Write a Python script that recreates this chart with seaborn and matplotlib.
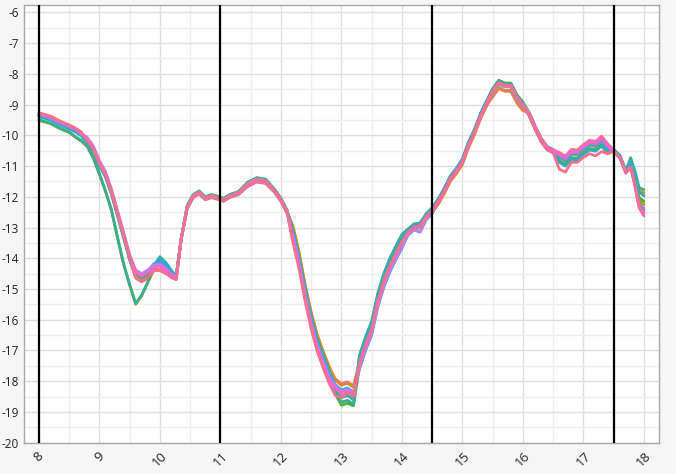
import numpy as np
import pandas as pd
import matplotlib
matplotlib.use("Agg")
import matplotlib.pyplot as plt
from matplotlib.ticker import MultipleLocator
import seaborn as sns

# x positions shared by every trace
x = [8.0, 8.1, 8.2, 8.3, 8.4, 8.5, 8.6, 8.7, 8.8, 8.9,
     9.0, 9.1, 9.2, 9.3, 9.4, 9.5, 9.6, 9.7, 9.8, 9.9,
     10.0, 10.1, 10.2, 10.27, 10.35, 10.45, 10.55, 10.65, 10.75, 10.85,
     10.95, 11.05, 11.15, 11.3, 11.45, 11.6, 11.75, 11.9, 12.0, 12.1,
     12.2, 12.3, 12.4, 12.5, 12.6, 12.7, 12.8, 12.9, 13.0, 13.1,
     13.2, 13.3, 13.4, 13.5, 13.6, 13.7, 13.8, 13.9, 14.0, 14.1,
     14.2, 14.3, 14.4, 14.5, 14.6, 14.7, 14.8, 14.9, 15.0, 15.1,
     15.2, 15.3, 15.4, 15.5, 15.6, 15.7, 15.8, 15.9, 16.0, 16.1,
     16.2, 16.3, 16.4, 16.5, 16.6, 16.7, 16.8, 16.9, 17.0, 17.1,
     17.2, 17.3, 17.4, 17.5, 17.6, 17.7, 17.78, 17.85, 17.92, 18.0]

s0 = [-9.29, -9.34, -9.40, -9.51, -9.60, -9.68, -9.78, -9.91, -10.17, -10.45,
      -10.92, -11.28, -11.85, -12.55, -13.25, -13.98, -14.65, -14.77, -14.65, -14.38,
      -14.35, -14.46, -14.62, -14.68, -13.40, -12.32, -11.95, -11.83, -12.02, -11.95,
      -12.00, -12.07, -11.95, -11.85, -11.55, -11.40, -11.45, -11.79, -12.07, -12.45,
      -13.00, -13.85, -14.90, -15.80, -16.53, -17.08, -17.58, -17.92, -18.08, -18.02,
      -18.15, -17.40, -16.80, -16.30, -15.40, -14.75, -14.25, -13.85, -13.47, -13.10,
      -12.93, -12.90, -12.60, -12.40, -12.20, -11.85, -11.45, -11.20, -10.90, -10.35,
      -9.93, -9.41, -9.00, -8.75, -8.48, -8.57, -8.57, -8.95, -9.20, -9.25,
      -9.70, -10.10, -10.37, -10.47, -10.56, -10.68, -10.46, -10.48, -10.30, -10.16,
      -10.20, -10.03, -10.28, -10.47, -10.65, -11.15, -11.00, -11.53, -12.19, -12.37]

s1 = [-9.52, -9.57, -9.63, -9.74, -9.83, -9.91, -10.06, -10.19, -10.37, -10.75,
      -11.27, -11.83, -12.45, -13.35, -14.20, -14.88, -15.50, -15.22, -14.80, -14.38,
      -14.15, -14.30, -14.52, -14.62, -13.40, -12.38, -12.01, -11.89, -12.08, -12.01,
      -12.06, -12.13, -12.01, -11.91, -11.65, -11.50, -11.55, -11.85, -12.13, -12.51,
      -12.95, -13.80, -14.85, -15.75, -16.48, -17.03, -17.53, -17.97, -18.13, -18.07,
      -18.20, -17.35, -16.75, -16.25, -15.35, -14.70, -14.20, -13.80, -13.42, -13.20,
      -13.03, -13.00, -12.70, -12.50, -12.25, -11.90, -11.50, -11.25, -10.95, -10.40,
      -9.98, -9.46, -9.05, -8.72, -8.45, -8.54, -8.54, -8.92, -9.17, -9.30,
      -9.75, -10.15, -10.42, -10.52, -10.68, -10.80, -10.58, -10.60, -10.42, -10.28,
      -10.32, -10.15, -10.40, -10.52, -10.70, -11.20, -10.88, -11.30, -11.80, -11.87]

s2 = [-9.37, -9.42, -9.48, -9.59, -9.68, -9.76, -9.86, -9.99, -10.22, -10.50,
      -10.97, -11.33, -11.90, -12.60, -13.30, -14.03, -14.58, -14.70, -14.58, -14.28,
      -14.10, -14.26, -14.49, -14.60, -13.40, -12.40, -12.03, -11.91, -12.10, -12.03,
      -12.08, -12.15, -12.03, -11.93, -11.67, -11.52, -11.57, -11.87, -12.15, -12.53,
      -13.05, -13.90, -14.95, -15.85, -16.58, -17.13, -17.63, -18.32, -18.48, -18.42,
      -18.55, -17.30, -16.70, -16.20, -15.30, -14.65, -14.15, -13.75, -13.37, -13.15,
      -12.98, -12.95, -12.65, -12.45, -12.20, -11.85, -11.45, -11.20, -10.90, -10.35,
      -9.93, -9.41, -9.00, -8.60, -8.33, -8.42, -8.42, -8.80, -9.05, -9.35,
      -9.80, -10.20, -10.47, -10.57, -10.73, -10.85, -10.63, -10.65, -10.47, -10.33,
      -10.37, -10.20, -10.45, -10.52, -10.70, -11.20, -10.98, -11.48, -12.11, -12.25]

s3 = [-9.35, -9.40, -9.46, -9.57, -9.66, -9.74, -9.84, -9.97, -10.19, -10.47,
      -10.94, -11.30, -11.87, -12.57, -13.27, -14.00, -14.55, -14.67, -14.55, -14.23,
      -14.05, -14.22, -14.47, -14.59, -13.40, -12.30, -11.93, -11.81, -12.00, -11.93,
      -11.98, -12.05, -11.93, -11.83, -11.53, -11.38, -11.43, -11.77, -12.05, -12.43,
      -13.10, -13.95, -15.00, -15.90, -16.63, -17.18, -17.68, -18.42, -18.78, -18.72,
      -18.80, -17.50, -16.70, -16.20, -15.30, -14.65, -14.15, -13.75, -13.37, -13.10,
      -12.93, -12.90, -12.60, -12.40, -12.10, -11.75, -11.35, -11.10, -10.80, -10.25,
      -9.83, -9.31, -8.90, -8.48, -8.21, -8.30, -8.30, -8.68, -8.93, -9.25,
      -9.70, -10.10, -10.37, -10.47, -10.68, -10.80, -10.58, -10.60, -10.42, -10.28,
      -10.32, -10.15, -10.40, -10.52, -10.70, -11.20, -10.93, -11.42, -12.03, -12.15]

s4 = [-9.50, -9.55, -9.61, -9.72, -9.81, -9.89, -10.04, -10.17, -10.35, -10.72,
      -11.24, -11.80, -12.42, -13.32, -14.17, -14.85, -15.47, -15.19, -14.77, -14.29,
      -14.00, -14.18, -14.44, -14.57, -13.40, -12.31, -11.94, -11.82, -12.01, -11.94,
      -11.99, -12.06, -11.94, -11.84, -11.54, -11.39, -11.44, -11.78, -12.06, -12.44,
      -13.20, -14.05, -15.10, -16.00, -16.73, -17.28, -17.78, -18.37, -18.68, -18.62,
      -18.75, -17.15, -16.55, -16.05, -15.15, -14.50, -14.00, -13.60, -13.22, -13.05,
      -12.88, -12.85, -12.55, -12.35, -12.07, -11.72, -11.32, -11.07, -10.77, -10.22,
      -9.80, -9.28, -8.87, -8.50, -8.23, -8.32, -8.32, -8.70, -8.95, -9.30,
      -9.75, -10.15, -10.42, -10.52, -10.83, -10.95, -10.73, -10.75, -10.57, -10.43,
      -10.47, -10.30, -10.55, -10.47, -10.65, -11.15, -10.73, -11.15, -11.70, -11.77]

s5 = [-9.40, -9.45, -9.51, -9.62, -9.71, -9.79, -9.89, -10.02, -10.25, -10.53,
      -11.00, -11.36, -11.93, -12.63, -13.33, -14.06, -14.60, -14.72, -14.60, -14.24,
      -13.95, -14.14, -14.42, -14.56, -13.40, -12.37, -12.00, -11.88, -12.07, -12.00,
      -12.05, -12.12, -12.00, -11.90, -11.63, -11.48, -11.53, -11.84, -12.12, -12.50,
      -13.25, -14.10, -15.15, -16.05, -16.78, -17.33, -17.83, -18.37, -18.53, -18.47,
      -18.60, -17.20, -16.60, -16.10, -15.20, -14.55, -14.05, -13.65, -13.27, -13.10,
      -12.93, -12.90, -12.60, -12.40, -12.10, -11.75, -11.35, -11.10, -10.80, -10.25,
      -9.83, -9.31, -8.90, -8.55, -8.28, -8.37, -8.37, -8.75, -9.00, -9.35,
      -9.80, -10.20, -10.47, -10.57, -10.88, -11.00, -10.78, -10.80, -10.62, -10.48,
      -10.52, -10.35, -10.60, -10.47, -10.65, -11.15, -10.83, -11.28, -11.85, -11.97]

s6 = [-9.33, -9.38, -9.44, -9.55, -9.64, -9.72, -9.82, -9.95, -10.12, -10.40,
      -10.87, -11.23, -11.80, -12.50, -13.20, -13.93, -14.42, -14.54, -14.42, -14.18,
      -14.10, -14.26, -14.49, -14.60, -13.40, -12.35, -11.98, -11.86, -12.05, -11.98,
      -12.03, -12.10, -11.98, -11.88, -11.60, -11.45, -11.50, -11.82, -12.10, -12.48,
      -13.15, -14.00, -15.05, -15.95, -16.68, -17.23, -17.73, -18.12, -18.28, -18.22,
      -18.35, -17.60, -17.00, -16.50, -15.60, -14.95, -14.45, -14.05, -13.67, -13.25,
      -13.08, -13.15, -12.75, -12.55, -12.15, -11.80, -11.40, -11.15, -10.85, -10.30,
      -9.88, -9.36, -8.95, -8.60, -8.33, -8.42, -8.42, -8.80, -9.05, -9.27,
      -9.72, -10.12, -10.39, -10.49, -10.68, -10.80, -10.58, -10.60, -10.42, -10.28,
      -10.32, -10.15, -10.40, -10.55, -10.73, -11.23, -11.01, -11.56, -12.25, -12.44]

s7 = [-9.32, -9.37, -9.43, -9.54, -9.63, -9.71, -9.81, -9.94, -10.07, -10.35,
      -10.82, -11.18, -11.75, -12.45, -13.15, -13.88, -14.38, -14.50, -14.38, -14.22,
      -14.20, -14.34, -14.55, -14.64, -13.40, -12.33, -11.96, -11.84, -12.03, -11.96,
      -12.01, -12.08, -11.96, -11.86, -11.57, -11.42, -11.47, -11.80, -12.08, -12.46,
      -13.30, -14.15, -15.20, -16.10, -16.83, -17.38, -17.88, -18.17, -18.33, -18.27,
      -18.40, -17.55, -16.95, -16.45, -15.55, -14.90, -14.40, -14.00, -13.62, -13.23,
      -13.06, -13.13, -12.73, -12.53, -12.18, -11.83, -11.43, -11.18, -10.88, -10.33,
      -9.91, -9.39, -8.98, -8.60, -8.33, -8.42, -8.42, -8.80, -9.05, -9.30,
      -9.75, -10.15, -10.42, -10.52, -10.63, -10.75, -10.53, -10.55, -10.37, -10.23,
      -10.27, -10.10, -10.35, -10.52, -10.70, -11.20, -11.03, -11.60, -12.30, -12.52]

s8 = [-9.30, -9.35, -9.41, -9.52, -9.61, -9.69, -9.79, -9.92, -10.12, -10.40,
      -10.87, -11.23, -11.80, -12.50, -13.20, -13.93, -14.45, -14.57, -14.45, -14.29,
      -14.25, -14.38, -14.57, -14.65, -13.40, -12.38, -12.01, -11.89, -12.08, -12.01,
      -12.06, -12.13, -12.01, -11.91, -11.65, -11.50, -11.55, -11.85, -12.13, -12.51,
      -13.40, -14.25, -15.30, -16.20, -16.93, -17.48, -17.98, -18.22, -18.38, -18.32,
      -18.45, -17.45, -16.85, -16.35, -15.45, -14.80, -14.30, -13.90, -13.52, -13.15,
      -12.98, -12.95, -12.65, -12.45, -12.15, -11.80, -11.40, -11.15, -10.85, -10.30,
      -9.88, -9.36, -8.95, -8.55, -8.28, -8.37, -8.37, -8.75, -9.00, -9.27,
      -9.72, -10.12, -10.39, -10.49, -10.63, -10.75, -10.53, -10.55, -10.37, -10.23,
      -10.27, -10.10, -10.35, -10.55, -10.73, -11.23, -11.06, -11.65, -12.37, -12.62]

s9 = [-9.27, -9.32, -9.38, -9.49, -9.58, -9.66, -9.76, -9.89, -10.17, -10.45,
      -10.92, -11.28, -11.85, -12.55, -13.25, -13.98, -14.62, -14.74, -14.62, -14.41,
      -14.40, -14.50, -14.64, -14.70, -13.40, -12.35, -11.98, -11.86, -12.05, -11.98,
      -12.03, -12.10, -11.98, -11.88, -11.60, -11.45, -11.50, -11.82, -12.10, -12.48,
      -13.50, -14.35, -15.40, -16.30, -17.03, -17.58, -18.08, -18.47, -18.53, -18.37,
      -18.50, -17.40, -16.80, -16.30, -15.40, -14.75, -14.25, -13.85, -13.47, -13.18,
      -13.01, -12.98, -12.68, -12.48, -12.20, -11.85, -11.45, -11.20, -10.90, -10.35,
      -9.93, -9.41, -9.00, -8.57, -8.30, -8.39, -8.39, -8.77, -9.02, -9.35,
      -9.80, -10.20, -10.47, -10.57, -11.10, -11.20, -10.88, -10.88, -10.72, -10.60,
      -10.67, -10.53, -10.60, -10.52, -10.70, -11.20, -11.03, -11.60, -12.30, -12.54]

markers_x = [8, 11, 14.5, 17.5]
x_ticks = list(range(8, 19))
y_ticks = list(range(-20, -5))

series = [s0, s1, s2, s3, s4, s5, s6, s7, s8, s9]
frames = []
for i, s in enumerate(series):
    frames.append(pd.DataFrame({"x": x, "y": s, "trace": i}))
df = pd.concat(frames, ignore_index=True)

sns.set_style("white")
plt.rcParams["font.family"] = ["Open Sans", "DejaVu Sans"]
plt.rcParams["axes.unicode_minus"] = False

fig = plt.figure(figsize=(6.76, 4.74), dpi=100, facecolor="#f6f6f6")
ax = fig.add_axes([0.036, 0.066, 0.939, 0.923])
ax.set_facecolor("white")

sns.lineplot(data=df, x="x", y="y", hue="trace", palette="husl",
             estimator=None, sort=False, linewidth=2.0, legend=False, ax=ax)

for xv in markers_x:
    ax.axvline(xv, color="black", linewidth=1.6, zorder=5)

ax.set_xlim(7.76, 18.25)
ax.set_ylim(-20, -5.77)
ax.set_xticks(x_ticks)
ax.set_yticks(y_ticks)
ax.xaxis.set_minor_locator(MultipleLocator(0.5))
ax.yaxis.set_minor_locator(MultipleLocator(0.5))
ax.grid(True, which="major", color="#dedede", linewidth=1.0)
ax.grid(True, which="minor", color="#efefef", linewidth=1.0)
ax.set_axisbelow(True)

ax.tick_params(axis="both", which="major", colors="#555555",
               labelcolor="#222222", length=3, width=0.8, direction="out")
ax.tick_params(axis="x", labelsize=9.5, pad=2)
ax.tick_params(axis="y", labelsize=8.5, pad=1)
ax.tick_params(axis="both", which="minor", length=2, width=0.8, colors="#888888")
plt.setp(ax.get_xticklabels(), rotation=45, ha="center")
for sp in ax.spines.values():
    sp.set_color("#a8a8a8")
    sp.set_linewidth(1.0)

ax.set_xlabel("")
ax.set_ylabel("")

fig.savefig("out.png", dpi=100, facecolor=fig.get_facecolor())
